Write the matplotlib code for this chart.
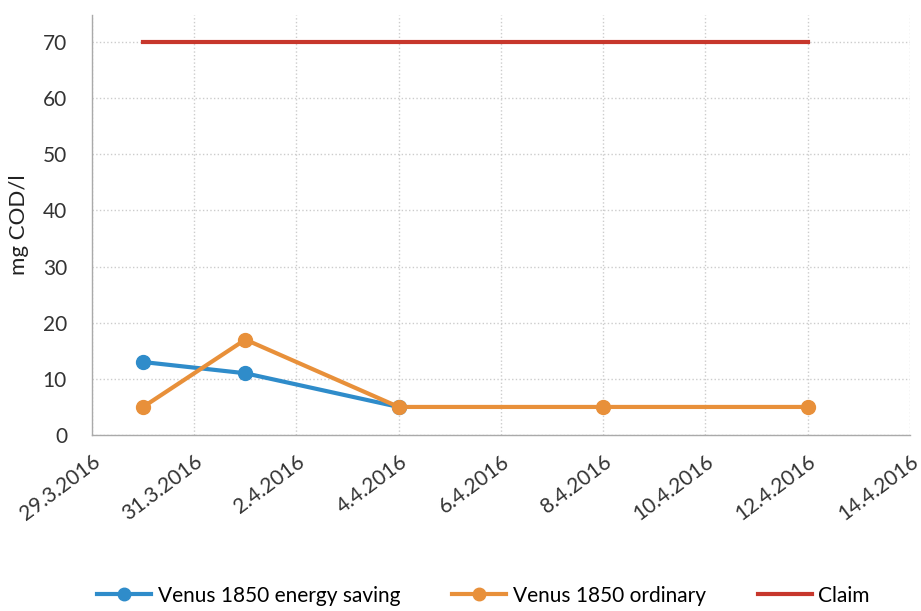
import matplotlib.pyplot as plt
import datetime as dt

plt.rcParams['font.family'] = ['Lato', 'DejaVu Sans']

# Data
es_dates = [dt.date(2016, 3, 30), dt.date(2016, 4, 1), dt.date(2016, 4, 4)]
es_values = [13, 11, 5]
ord_dates = [dt.date(2016, 3, 30), dt.date(2016, 4, 1), dt.date(2016, 4, 4),
             dt.date(2016, 4, 8), dt.date(2016, 4, 12)]
ord_values = [5, 17, 5, 5, 5]
claim_dates = [dt.date(2016, 3, 30), dt.date(2016, 4, 12)]
claim_values = [70, 70]
tick_dates = [dt.date(2016, 3, 29) + dt.timedelta(days=2 * i) for i in range(9)]
tick_labels = [f'{d.day}.{d.month}.{d.year}' for d in tick_dates]

fig = plt.figure(figsize=(9.21, 6.11), dpi=100)
ax = fig.add_axes([0.0999, 0.288, 0.888, 0.6875])

ax.plot(es_dates, es_values, color='#2f8cca', lw=3, marker='o', ms=10,
        label='Venus 1850 energy saving', zorder=3)
ax.plot(ord_dates, ord_values, color='#e8903a', lw=3, marker='o', ms=10,
        label='Venus 1850 ordinary', zorder=4)
ax.plot(claim_dates, claim_values, color='#c7372c', lw=3, label='Claim', zorder=3)

ax.set_xlim(tick_dates[0], tick_dates[-1])
ax.set_ylim(0, 74.8)
ax.set_yticks(range(0, 80, 10))
ax.set_xticks(tick_dates)
ax.set_xticklabels(tick_labels, rotation=37, ha='right', va='top',
                   rotation_mode='anchor')
ax.tick_params(axis='both', length=0, labelsize=15, colors='#333333')
ax.tick_params(axis='y', pad=18)
ax.tick_params(axis='x', pad=12)

ax.grid(True, color='#cccccc', ls=':', lw=1)
ax.set_axisbelow(True)
for s in ['top', 'right']:
    ax.spines[s].set_visible(False)
for s in ['left', 'bottom']:
    ax.spines[s].set_color('#aaaaaa')
    ax.spines[s].set_linewidth(1)

ax.set_ylabel('mg COD/l', fontsize=16, color='#222222', labelpad=10)

fig.legend(loc='lower center', bbox_to_anchor=(0.525, -0.022), ncol=3, frameon=False,
           fontsize=15, handlelength=2.6, handletextpad=0.3, columnspacing=2.5,
           markerscale=0.9)

fig.savefig('out.png', dpi=100)
